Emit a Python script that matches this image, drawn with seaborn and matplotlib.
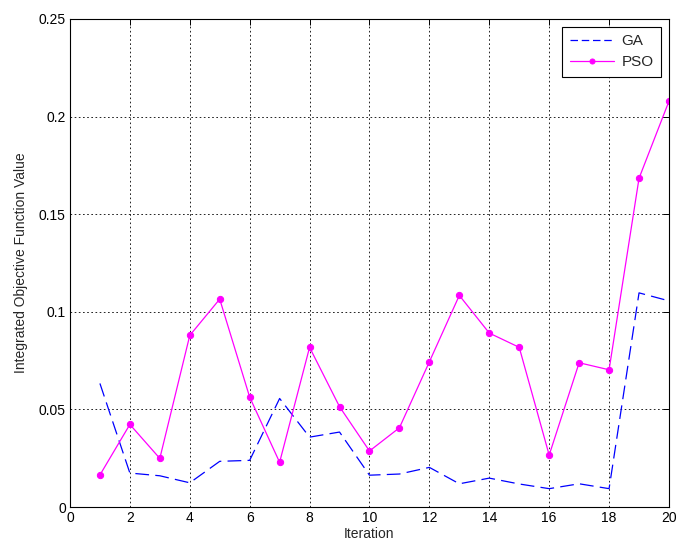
import matplotlib
matplotlib.use("Agg")
import matplotlib.pyplot as plt
import seaborn as sns
import pandas as pd

iterations = list(range(1, 21))
ga_values = [0.0633, 0.0174, 0.0160, 0.0124, 0.0234, 0.0239, 0.0556, 0.0358, 0.0384, 0.0163,
             0.0169, 0.0203, 0.0119, 0.0148, 0.0118, 0.0094, 0.0119, 0.0094, 0.1097, 0.1056]
pso_values = [0.0164, 0.0423, 0.0249, 0.0879, 0.1065, 0.0563, 0.0229, 0.0818, 0.0514, 0.0287,
              0.0406, 0.0744, 0.1084, 0.0891, 0.0818, 0.0266, 0.0739, 0.0703, 0.1684, 0.2079]
x_ticks = [0, 2, 4, 6, 8, 10, 12, 14, 16, 18, 20]
y_ticks = [0, 0.05, 0.1, 0.15, 0.2, 0.25]
y_tick_labels = ["0", "0.05", "0.1", "0.15", "0.2", "0.25"]

sns.set_style("white")
plt.rcParams['font.family'] = ['Liberation Sans', 'DejaVu Sans']

df_ga = pd.DataFrame({"Iteration": iterations, "Value": ga_values})
df_pso = pd.DataFrame({"Iteration": iterations, "Value": pso_values})

fig = plt.figure(figsize=(6.78, 5.47), dpi=100)
ax = fig.add_axes([0.1032, 0.0731, 0.8835, 0.8922])

sns.lineplot(data=df_ga, x="Iteration", y="Value", ax=ax, color="#0000ff",
             linewidth=0.9, label="GA", dashes=False)
ax.lines[-1].set_dashes([11, 5])
sns.lineplot(data=df_pso, x="Iteration", y="Value", ax=ax, color="#ff00ff",
             linewidth=0.9, marker="o", markersize=4.5, markeredgecolor="#ff00ff",
             label="PSO")

ax.set_xlim(0, 20)
ax.set_ylim(0, 0.25)
ax.set_xticks(x_ticks)
ax.set_yticks(y_ticks)
ax.set_yticklabels(y_tick_labels)
ax.tick_params(direction="in", top=True, right=True, length=4, width=0.7,
               labelsize=10, colors="black", pad=3)
ax.grid(True, color="black", linestyle=(0, (2, 3)), linewidth=0.6)
for s in ax.spines.values():
    s.set_color("black")
    s.set_linewidth(0.8)
ax.set_xlabel("Iteration", fontsize=10, labelpad=1)
ax.set_ylabel("Integrated Objective Function Value", fontsize=10, labelpad=8)

leg = ax.legend(loc="upper right", fontsize=11, frameon=True, fancybox=False,
                edgecolor="black", framealpha=1, handlelength=2.9,
                borderaxespad=0.5, borderpad=0.5, labelspacing=0.45,
                handletextpad=0.5, markerscale=0.8)
leg.get_frame().set_linewidth(0.8)
leg.legend_handles[0].set_dashes([6, 3])

fig.savefig("out.png", dpi=100)
